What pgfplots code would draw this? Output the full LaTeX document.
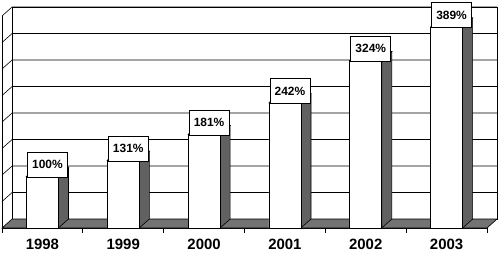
\documentclass[border=0pt]{standalone}
\usepackage{fontspec}
\setmainfont{Liberation Sans}
\usepackage{pgfplots}
\pgfplotsset{compat=1.18}
\definecolor{floorgray}{gray}{0.45}
\definecolor{sidegray}{gray}{0.38}
\begin{document}
\begin{tikzpicture}
\begin{axis}[
  at={(0,0)}, anchor=south west,
  scale only axis, width=485bp, height=212bp,
  xmin=0, xmax=6, ymin=0, ymax=410,
  clip=false,
  /pgf/number format/assume math mode=true,
  axis lines*=left,
  axis line style={black, line width=0.7bp},
  xtick={0.5,1.5,...,5.5},
  xticklabels={1998,1999,2000,2001,2002,2003},
  minor xtick={0,1,...,6},
  major tick length=0pt,
  minor tick length=5bp,
  tick align=outside,
  tick style={black, line width=0.7bp},
  ytick=\empty,
  xticklabel style={font=\bfseries\fontsize{15}{15}\selectfont, yshift=-8bp},
]
% back wall
\addplot[fill=white, draw=black, line width=0.7bp] coordinates {(0.125,17.4) (6.125,17.4) (6.125,427.4) (0.125,427.4)} -- cycle;
% grid lines on back wall and left wall
\pgfplotsinvokeforeach{51.25,102.5,153.75,205,256.25,307.5,358.75,410}{
  \addplot[black, line width=0.6bp] coordinates {(0,#1) (0.125,#1+17.4) (6.125,#1+17.4)};
}
\addplot[black, line width=0.7bp] coordinates {(0.125,17.4) (0.125,427.4)};
% floor
\addplot[fill=floorgray, draw=black, line width=0.6bp] coordinates {(0,0) (6,0) (6.125,17.4) (0.125,17.4)} -- cycle;
% side faces
\addplot[fill=sidegray, draw=black, line width=0.6bp] coordinates {(0.698,0) (0.823,17.4) (0.823,117.4) (0.698,100)} -- cycle;
\addplot[fill=sidegray, draw=black, line width=0.6bp] coordinates {(1.698,0) (1.823,17.4) (1.823,148.4) (1.698,131)} -- cycle;
\addplot[fill=sidegray, draw=black, line width=0.6bp] coordinates {(2.698,0) (2.823,17.4) (2.823,198.4) (2.698,181)} -- cycle;
\addplot[fill=sidegray, draw=black, line width=0.6bp] coordinates {(3.698,0) (3.823,17.4) (3.823,259.4) (3.698,242)} -- cycle;
\addplot[fill=sidegray, draw=black, line width=0.6bp] coordinates {(4.698,0) (4.823,17.4) (4.823,341.4) (4.698,324)} -- cycle;
\addplot[fill=sidegray, draw=black, line width=0.6bp] coordinates {(5.698,0) (5.823,17.4) (5.823,406.4) (5.698,389)} -- cycle;
% top faces
\addplot[fill=white, draw=black, line width=0.6bp] coordinates {(0.302,100) (0.427,117.4) (0.823,117.4) (0.698,100)} -- cycle;
\addplot[fill=white, draw=black, line width=0.6bp] coordinates {(1.302,131) (1.427,148.4) (1.823,148.4) (1.698,131)} -- cycle;
\addplot[fill=white, draw=black, line width=0.6bp] coordinates {(2.302,181) (2.427,198.4) (2.823,198.4) (2.698,181)} -- cycle;
\addplot[fill=white, draw=black, line width=0.6bp] coordinates {(3.302,242) (3.427,259.4) (3.823,259.4) (3.698,242)} -- cycle;
\addplot[fill=white, draw=black, line width=0.6bp] coordinates {(4.302,324) (4.427,341.4) (4.823,341.4) (4.698,324)} -- cycle;
\addplot[fill=white, draw=black, line width=0.6bp] coordinates {(5.302,389) (5.427,406.4) (5.823,406.4) (5.698,389)} -- cycle;
% front faces with labels
\addplot[ybar, bar width=0.396, fill=white, draw=black, line width=0.7bp,
  nodes near coords={\pgfmathprintnumber[assume math mode=true]{\pgfplotspointmeta}\%},
  every node near coord/.style={anchor=south, draw=black, fill=white, line width=0.7bp,
    minimum width=40bp, minimum height=25bp, inner sep=0pt, xshift=5bp, yshift=-1bp,
    font=\bfseries\fontsize{12}{12}\selectfont, text=black}]
  coordinates {(0.5,100) (1.5,131) (2.5,181) (3.5,242) (4.5,324) (5.5,389)};
\end{axis}
\pgfresetboundingbox
\path[use as bounding box] (-2bp,-45bp) rectangle (497bp,228bp);
\end{tikzpicture}
\end{document}
